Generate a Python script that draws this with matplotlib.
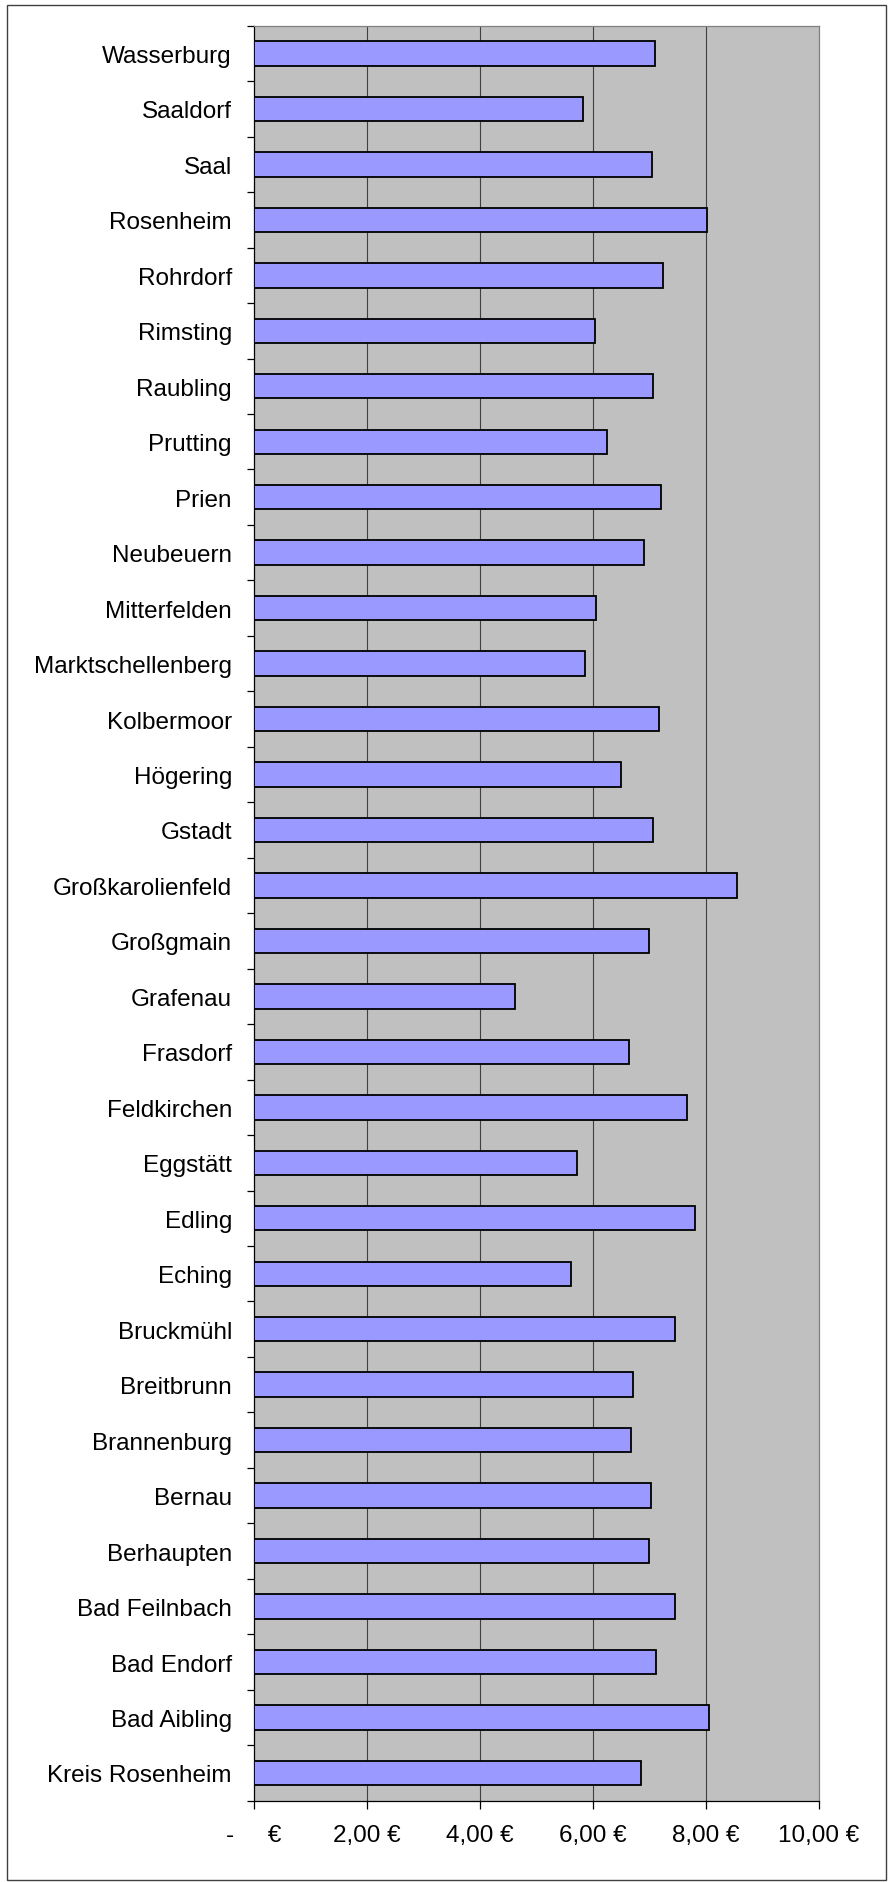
import matplotlib
matplotlib.use("Agg")
import matplotlib.pyplot as plt
import numpy as np
from matplotlib.patches import Rectangle

# ---- data (top to bottom as shown) ----
categories = [
    "Wasserburg", "Saaldorf", "Saal", "Rosenheim", "Rohrdorf", "Rimsting",
    "Raubling", "Prutting", "Prien", "Neubeuern", "Mitterfelden",
    "Marktschellenberg", "Kolbermoor", "Högering", "Gstadt",
    "Großkarolienfeld", "Großgmain", "Grafenau", "Frasdorf", "Feldkirchen",
    "Eggstätt", "Edling", "Eching", "Bruckmühl", "Breitbrunn", "Brannenburg",
    "Bernau", "Berhaupten", "Bad Feilnbach", "Bad Endorf", "Bad Aibling",
    "Kreis Rosenheim",
]
values = [
    7.10, 5.83, 7.06, 8.02, 7.24, 6.04,
    7.07, 6.25, 7.21, 6.92, 6.07,
    5.87, 7.18, 6.50, 7.07,
    8.56, 7.00, 4.63, 6.65, 7.67,
    5.73, 7.81, 5.62, 7.46, 6.72, 6.68,
    7.04, 7.00, 7.46, 7.13, 8.06,
    6.85,
]
x_ticks = [0, 2, 4, 6, 8, 10]
x_tick_labels = ["-     €", "2,00 €", "4,00 €", "6,00 €", "8,00 €", "10,00 €"]

plt.rcParams["font.family"] = ["Liberation Sans", "DejaVu Sans"]

W, H = 890, 1883
fig = plt.figure(figsize=(W / 100, H / 100), dpi=100)

# outer chart frame
fig.patches.append(Rectangle((7 / W, 1 - 1881 / H), (886 - 7) / W, (1881 - 6) / H,
                             transform=fig.transFigure, fill=False,
                             edgecolor="#404040", linewidth=1.0))

left, right = 253.5, 818.5
top, bottom = 26.7, 1801.7
ax = fig.add_axes([left / W, 1 - bottom / H, (right - left) / W, (bottom - top) / H])
ax.set_facecolor("#C0C0C0")

n = len(categories)
y = np.arange(n)
ax.barh(y, values, height=0.44, color="#9999FF", edgecolor="black",
        linewidth=1.3, zorder=3)

ax.set_xlim(0, 10)
ax.set_ylim(n - 0.5, -0.5)

ax.set_xticks(x_ticks)
ax.set_xticklabels(x_tick_labels, fontsize=17.5)
ax.tick_params(axis="x", direction="out", length=6, width=0.9, color="black", pad=11)

ax.set_yticks(y)
ax.set_yticklabels(categories, fontsize=17.5)
ax.tick_params(axis="y", which="major", length=0, pad=15.5)
ax.set_yticks(np.arange(n + 1) - 0.5, minor=True)
ax.tick_params(axis="y", which="minor", direction="out", length=5, width=0.9, color="black")

for gx in x_ticks[1:-1]:
    ax.axvline(gx, color="#404040", linewidth=0.8, zorder=1)

ax.spines["left"].set_color("black")
ax.spines["bottom"].set_color("black")
ax.spines["left"].set_linewidth(0.9)
ax.spines["bottom"].set_linewidth(0.9)
ax.spines["top"].set_color("#808080")
ax.spines["right"].set_color("#808080")
ax.spines["top"].set_linewidth(0.9)
ax.spines["right"].set_linewidth(0.9)

fig.savefig("out.png", dpi=100)
